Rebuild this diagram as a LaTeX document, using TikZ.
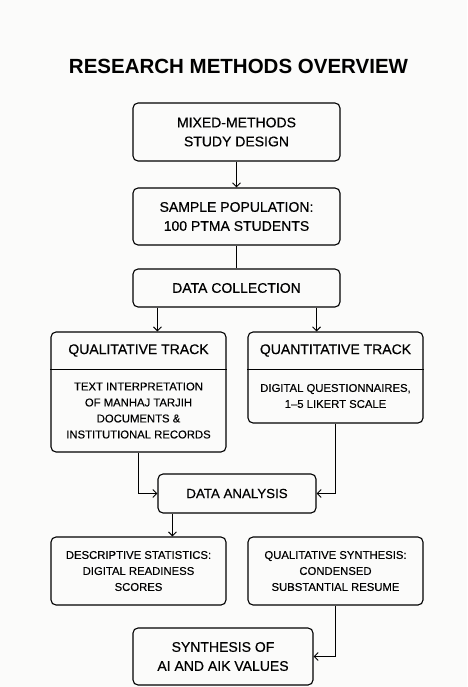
\documentclass[tikz,border=0pt]{standalone}
\usepackage{fontspec}
\setmainfont{Liberation Sans}
\usetikzlibrary{arrows.meta}
\definecolor{paper}{RGB}{251,251,250}
\newfontfamily\boxfont[FakeBold=0.5,Ligatures=TeX]{Liberation Sans}
\newfontfamily\notefont[FakeBold=0.25,Ligatures=TeX]{Liberation Sans}
\begin{document}
\begin{tikzpicture}[x=1pt, y=-1pt,
  box/.style={draw, rounded corners=5pt, line width=1.1pt, align=center, inner sep=0pt, font=\boxfont\fontsize{14}{19}\selectfont},
  head/.style={align=center, inner sep=0pt, font=\boxfont\fontsize{14}{19}\selectfont},
  small/.style={align=center, inner sep=0pt, font=\notefont\fontsize{11.3}{16}\selectfont},
  link/.style={line width=0.9pt, -{Straight Barb[length=4pt,width=8pt]}}]

\fill[paper] (0,0) rectangle (467,687);
\useasboundingbox (0,0) rectangle (467,687);

\node[font=\fontsize{20.5}{24}\selectfont\bfseries] (title) at (238.5,66) {RESEARCH METHODS OVERVIEW};

\node[box, minimum width=207pt, minimum height=58pt] (design) at (236.5,132) {MIXED-METHODS\\STUDY DESIGN};
\node[box, minimum width=207pt, minimum height=57pt] (sample) at (236.5,216.5) {SAMPLE POPULATION:\\100 PTMA STUDENTS};
\node[box, minimum width=207pt, minimum height=38pt] (collect) at (236.5,288) {DATA COLLECTION};

\node[box, minimum width=175pt, minimum height=120pt] (qual) at (138.5,392) {};
\node[head] (qualhead) at (138.5,350.5) {QUALITATIVE TRACK};
\coordinate (qualcut) at (138.5,369);
\draw[line width=0.8pt] (qual.west |- qualcut) -- (qual.east |- qualcut);
\node[small] (qualbody) at (138.5,410.5) {TEXT INTERPRETATION\\OF MANHAJ TARJIH\\DOCUMENTS \&\\INSTITUTIONAL RECORDS};

\node[box, minimum width=175pt, minimum height=91pt] (quant) at (335.5,377.5) {};
\node[head] (quanthead) at (335.5,350.5) {QUANTITATIVE TRACK};
\coordinate (quantcut) at (335.5,369);
\draw[line width=0.8pt] (quant.west |- quantcut) -- (quant.east |- quantcut);
\node[small] (quantbody) at (335.5,396) {DIGITAL QUESTIONNAIRES,\\1–5 LIKERT SCALE};

\node[box, minimum width=158pt, minimum height=39pt, font=\boxfont\fontsize{13.3}{16}\selectfont] (analysis) at (237,493.5) {DATA ANALYSIS};

\node[box, small, minimum width=175pt, minimum height=68pt] (desc) at (138.5,571) {DESCRIPTIVE STATISTICS:\\DIGITAL READINESS\\SCORES};
\node[box, small, minimum width=175pt, minimum height=68pt] (qsyn) at (335.5,571) {QUALITATIVE SYNTHESIS:\\CONDENSED\\SUBSTANTIAL RESUME};

\node[box, minimum width=180pt, minimum height=57pt] (synth) at (223,656.5) {SYNTHESIS OF\\AI AND AIK VALUES};

\draw[link] (design) -- (sample);
\draw[line width=0.9pt] (sample) -- (collect);
\draw[link] (analysis.west |- collect.south) -- (analysis.west |- qual.north);
\draw[link] (analysis.east |- collect.south) -- (analysis.east |- quant.north);
\draw[link] (qual.south) |- (analysis.west);
\draw[link] (quant.south) |- (analysis.east);
\coordinate (drop) at ([xshift=15pt]analysis.south west);
\draw[link] (drop) -- (drop |- desc.north);
\draw[link] (qsyn.south) |- (synth.east);

\end{tikzpicture}
\end{document}
